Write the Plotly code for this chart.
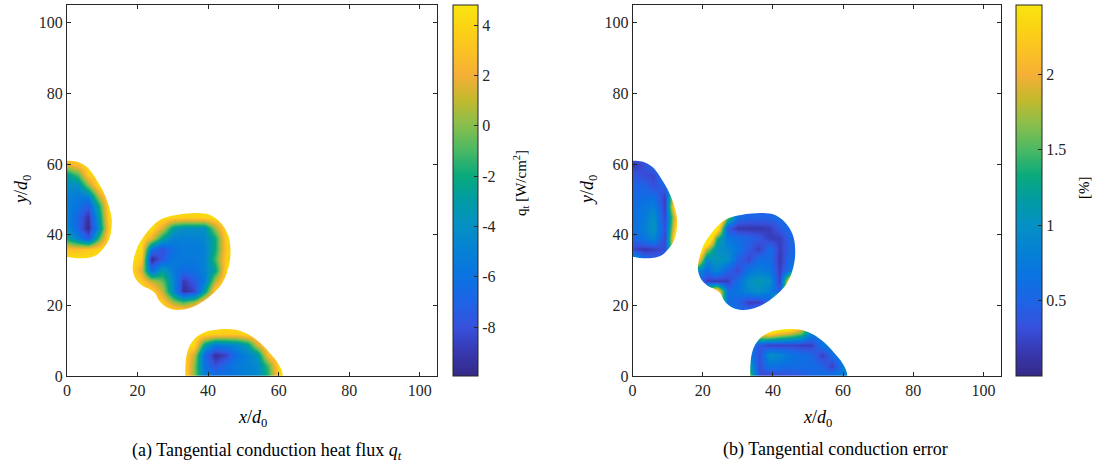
import plotly.graph_objects as go

# ---------------- data ----------------
# grid nodes of the three droplet footprints (x/d0, y/d0)
A_x = [0, 3, 6, 9, 12, 15]
A_y = [33, 36, 39, 42, 45, 48, 51, 54, 57, 60, 63]
B_x = [18, 21, 24, 27, 30, 33, 36, 39, 42, 45, 48]
B_y = [18, 21, 24, 27, 30, 33, 36, 39, 42, 45, 48]
C_x = [33, 36, 39, 42, 45, 48, 51, 54, 57, 60, 63]
C_y = [0, 3, 6, 9, 12, 15]

# (a) tangential conduction heat flux q_t [W/cm^2]
qt_A = [
    [4.6, 4.6, 4.6, 4.6, 4.6, 4.6],
    [3.0, 2.8, 3.2, 4.0, 4.6, 4.6],
    [-2.5, -5.0, -7.5, -1.0, 4.6, 4.6],
    [-4.5, -7.0, -9.8, -4.0, 3.8, 4.6],
    [-5.0, -7.0, -9.3, -3.0, 4.2, 4.6],
    [-5.0, -6.0, -7.5, -2.0, 4.6, 4.6],
    [-5.0, -5.5, -5.0, 1.0, 4.6, 4.6],
    [-4.0, -4.0, 0.0, 4.6, 4.6, 4.6],
    [-3.0, -1.0, 3.5, 4.6, 4.6, 4.6],
    [2.0, 3.0, 4.6, 4.6, 4.6, 4.6],
    [4.6, 4.6, 4.6, 4.6, 4.6, 4.6],
]
qt_B = [
    [4.6, 4.6, 4.6, 4.6, 4.6, 4.6, 4.6, 4.6, 4.6, 4.6, 4.6],
    [4.6, 4.6, 4.6, 3.5, 0.5, -1.0, 0.5, 4.0, 4.6, 4.6, 4.6],
    [4.6, 4.6, 4.2, 1.0, -4.5, -9.5, -8.5, -3.0, 4.0, 4.6, 4.6],
    [4.6, 3.5, 1.0, -0.5, -4.5, -9.0, -7.5, -5.5, 1.0, 4.6, 4.6],
    [4.6, 1.5, -6.5, -3.0, -5.5, -6.5, -6.0, -5.0, -2.5, 4.2, 4.6],
    [4.6, 3.5, -9.8, -7.5, -5.5, -5.5, -5.5, -5.0, -1.0, 3.8, 4.6],
    [4.6, 4.3, -6.0, -8.0, -6.0, -5.5, -5.5, -5.0, -2.0, 3.5, 4.6],
    [4.6, 4.6, 2.0, -2.5, -5.0, -5.0, -5.0, -4.5, -2.0, 3.8, 4.6],
    [4.6, 4.6, 4.5, 1.5, -3.0, -4.0, -4.0, -4.0, 0.5, 4.6, 4.6],
    [4.6, 4.6, 4.6, 4.6, 4.0, 3.8, 3.8, 4.0, 4.6, 4.6, 4.6],
    [4.6, 4.6, 4.6, 4.6, 4.6, 4.6, 4.6, 4.6, 4.6, 4.6, 4.6],
]
qt_C = [
    [4.6, 0.0, -5.0, -6.0, -6.0, -5.5, -5.0, -4.5, -1.5, 4.0, 4.6],
    [4.6, 0.0, -6.0, -8.0, -6.5, -5.5, -5.0, -4.5, -1.0, 4.3, 4.6],
    [4.6, 1.0, -6.5, -9.5, -8.5, -6.0, -5.0, -3.5, 3.0, 4.6, 4.6],
    [4.6, 4.3, -2.5, -5.5, -5.0, -4.5, -3.0, 1.5, 4.6, 4.6, 4.6],
    [4.6, 4.6, 4.3, 3.8, 3.5, 3.5, 4.2, 4.6, 4.6, 4.6, 4.6],
    [4.6, 4.6, 4.6, 4.6, 4.6, 4.6, 4.6, 4.6, 4.6, 4.6, 4.6],
]

# (b) tangential conduction error [%]
err_A = [
    [1.2, 0.6, 0.5, 0.6, 2.2, 3.0],
    [0.25, 0.15, 0.2, 0.3, 2.4, 3.5],
    [0.5, 0.7, 0.9, 0.25, 2.6, 3.5],
    [0.6, 0.8, 1.05, 0.3, 2.2, 3.5],
    [0.6, 0.75, 1.0, 0.25, 2.0, 3.5],
    [0.6, 0.7, 0.8, 0.2, 2.6, 3.5],
    [0.55, 0.6, 0.6, 0.2, 2.2, 3.0],
    [0.5, 0.5, 0.3, 0.5, 1.0, 1.0],
    [0.4, 0.3, 0.25, 0.8, 0.8, 0.8],
    [0.15, 0.3, 0.6, 0.8, 0.8, 0.8],
    [0.6, 0.6, 0.6, 0.6, 0.6, 0.6],
]
err_B = [
    [0.5, 0.5, 1.5, 1.0, 0.6, 0.6, 0.8, 1.5, 2.0, 3.0, 3.0],
    [0.5, 0.8, 2.4, 0.6, 0.5, 0.2, 0.2, 0.5, 3.0, 3.0, 3.5],
    [0.8, 1.8, 2.6, 0.6, 0.7, 0.9, 1.0, 0.8, 0.4, 3.0, 3.5],
    [0.8, 0.2, 0.15, 0.2, 0.6, 1.0, 1.1, 1.0, 0.2, 2.6, 2.0],
    [1.0, 0.6, 0.9, 0.5, 0.25, 0.7, 0.8, 0.7, 0.2, 0.7, 0.6],
    [2.8, 0.9, 1.1, 1.0, 0.5, 0.25, 0.6, 0.6, 0.15, 0.6, 0.6],
    [3.5, 1.8, 1.0, 0.9, 0.7, 0.4, 0.2, 0.6, 0.2, 0.5, 0.6],
    [3.5, 3.5, 1.4, 0.7, 0.6, 0.5, 0.4, 0.2, 0.2, 0.5, 0.6],
    [3.5, 3.5, 2.8, 0.4, 0.15, 0.15, 0.15, 0.2, 0.4, 0.6, 0.6],
    [3.5, 3.5, 3.5, 1.6, 0.6, 0.5, 0.5, 0.5, 0.6, 0.6, 0.6],
    [3.5, 3.5, 3.5, 1.0, 0.5, 0.5, 0.5, 0.5, 0.6, 0.6, 0.6],
]
err_C = [
    [1.8, 0.3, 0.2, 0.3, 0.3, 0.4, 0.5, 0.6, 0.7, 0.8, 0.8],
    [1.2, 0.3, 0.7, 0.6, 0.6, 0.6, 0.6, 0.5, 0.2, 0.8, 0.8],
    [0.8, 0.3, 1.0, 0.9, 0.7, 0.6, 0.55, 0.2, 0.6, 0.8, 0.8],
    [0.8, 0.4, 0.2, 0.2, 0.25, 0.2, 0.2, 0.7, 0.8, 0.8, 0.8],
    [1.0, 2.2, 2.3, 2.0, 1.8, 1.5, 0.8, 0.7, 0.7, 0.7, 0.7],
    [2.0, 3.5, 3.5, 3.5, 3.5, 2.5, 1.0, 0.7, 0.7, 0.7, 0.7],
]

# droplet footprint outlines
ring_A_x = [-3, 0.4, 2.7, 4.3, 5.6, 7.1, 8.4, 10.0, 11.3, 12.2, 12.7, 12.6, 12.2,
            11.4, 10.3, 9.0, 7.5, 5.6, 3.7, 2.0, 0.4, -3]
ring_A_y = [61, 60.9, 60.7, 60.1, 59.2, 57.5, 55.5, 52.8, 49.8, 47.0, 44.2, 41.7, 39.4,
            37.6, 36.1, 34.7, 33.8, 33.4, 33.3, 33.4, 33.7, 33.7]
ring_B_x = [18.6, 18.9, 19.8, 21.7, 23.5, 25.0, 26.0, 27.3, 29.0, 31.1, 33.5, 35.8, 38.8,
            41.5, 43.8, 45.3, 46.2, 46.3, 45.7, 44.4, 42.7, 40.6, 37.3, 34.0, 30.0, 26.4,
            23.8, 21.7, 20.2, 19.3, 18.8]
ring_B_y = [30.5, 28.8, 27.0, 25.3, 24.5, 23.4, 21.5, 20.1, 19.1, 18.7, 18.9, 19.6, 21.2,
            23.4, 26.0, 29.1, 32.8, 36.6, 39.8, 42.3, 44.2, 45.6, 46.1, 46.0, 45.4, 44.2,
            42.0, 39.4, 37.0, 34.5, 32.5]
ring_C_x = [33.4, 33.5, 33.6, 34.0, 35.0, 36.8, 39.0, 41.5, 45.0, 48.2, 51.2, 53.8, 55.9,
            57.6, 59.2, 60.4, 61.0, 61.2, 61.3]
ring_C_y = [-3, 0, 3.5, 6.4, 9.0, 11.1, 12.4, 13.0, 13.3, 13.0, 11.9, 10.2, 8.3,
            6.4, 4.5, 2.6, 1.2, 0, -3]
frame_x = [-60, 55, 170, 170, 170, 55, -60, -60]
frame_y = [-60, -60, -60, 55, 170, 170, 170, 55]

axis_ticks = [0, 20, 40, 60, 80, 100]
qt_ticks = [-8, -6, -4, -2, 0, 2, 4]
err_ticks = [0.5, 1, 1.5, 2]
qt_range = [-9.94, 4.8]
err_range = [0.0, 2.46]

# ---------------- styling ----------------
parula = [
    [0.0, 'rgb(53,42,135)'], [0.07, 'rgb(55,58,180)'], [0.13, 'rgb(55,80,220)'],
    [0.2, 'rgb(30,100,230)'], [0.27, 'rgb(10,115,225)'], [0.34, 'rgb(5,130,212)'],
    [0.41, 'rgb(5,145,195)'], [0.47, 'rgb(0,155,165)'], [0.54, 'rgb(10,170,125)'],
    [0.61, 'rgb(75,185,100)'], [0.68, 'rgb(140,190,75)'], [0.745, 'rgb(195,185,45)'],
    [0.81, 'rgb(245,175,55)'], [0.88, 'rgb(252,195,35)'], [0.94, 'rgb(250,212,20)'],
    [1.0, 'rgb(249,228,15)'],
]
FONT = 'Liberation Serif, Times New Roman, serif'
INK = '#262626'
W, H = 1097, 465


def fx(px):
    return px / W


def fy(py):
    return 1 - py / H


def closed_ring(xs, ys, want_cw):
    n = len(xs)
    area = sum(xs[i] * ys[(i + 1) % n] - xs[(i + 1) % n] * ys[i] for i in range(n))
    is_cw = area < 0
    if is_cw != want_cw:
        xs, ys = xs[::-1], ys[::-1]
    return list(xs) + [xs[0]], list(ys) + [ys[0]]


mask_x, mask_y = closed_ring(frame_x, frame_y, False)
for rx, ry in [(ring_A_x, ring_A_y), (ring_B_x, ring_B_y), (ring_C_x, ring_C_y)]:
    hx, hy = closed_ring(rx, ry, True)
    mask_x += [None] + hx
    mask_y += [None] + hy

fig = go.Figure()
panels = [
    ('x', 'y', 'coloraxis', [qt_A, qt_B, qt_C]),
    ('x2', 'y2', 'coloraxis2', [err_A, err_B, err_C]),
]
for xa, ya, cax, zs in panels:
    for gx, gy, z in zip([A_x, B_x, C_x], [A_y, B_y, C_y], zs):
        fig.add_trace(go.Heatmap(x=gx, y=gy, z=z, zsmooth='best', coloraxis=cax,
                                 hoverinfo='skip', xaxis=xa, yaxis=ya))
    fig.add_trace(go.Scatter(x=mask_x, y=mask_y, mode='lines', fill='toself',
                             fillcolor='white',
                             line=dict(width=0, color='white', shape='spline', smoothing=1.0),
                             hoverinfo='skip', showlegend=False, xaxis=xa, yaxis=ya))

tickfont = dict(family=FONT, size=16, color=INK)
ax_common = dict(range=[0, 105], tickvals=axis_ticks, ticks='inside', ticklen=4,
                 tickcolor=INK, mirror='ticks', showline=True, linecolor=INK,
                 linewidth=1, showgrid=False, zeroline=False, tickfont=tickfont,
                 automargin=False, fixedrange=True)
y_dom = [fy(376), fy(5)]

cb_common = dict(xanchor='left', xpad=0, y=fy(376), yanchor='bottom', ypad=0,
                 len=371, lenmode='pixels', thicknessmode='pixels',
                 outlinewidth=1, outlinecolor=INK, ticks='inside', ticklen=4,
                 tickcolor=INK, tickfont=tickfont)

fig.update_layout(
    template='none',
    font=dict(family=FONT, size=16, color=INK),
    width=W, height=H, margin=dict(l=0, r=0, t=0, b=0, autoexpand=False),
    paper_bgcolor='white', plot_bgcolor='white', showlegend=False,
    xaxis=dict(domain=[fx(67), fx(437.4)], anchor='y', **ax_common),
    yaxis=dict(domain=y_dom, anchor='x', **ax_common),
    xaxis2=dict(domain=[fx(632.6), fx(1001)], anchor='y2', **ax_common),
    yaxis2=dict(domain=y_dom, anchor='x2', **ax_common),
    coloraxis=dict(colorscale=parula, cmin=qt_range[0], cmax=qt_range[1],
                   colorbar=dict(x=fx(453), thickness=25, tickvals=qt_ticks,
                                 ticktext=[str(v) for v in qt_ticks], **cb_common)),
    coloraxis2=dict(colorscale=parula, cmin=err_range[0], cmax=err_range[1],
                    colorbar=dict(x=fx(1015.5), thickness=26, tickvals=err_ticks,
                                  ticktext=[str(v) for v in err_ticks], **cb_common)),
)


def ann(text, px, py, size, angle=0):
    fig.add_annotation(text=text, x=fx(px), y=fy(py), xref='paper', yref='paper',
                       showarrow=False, textangle=angle, xanchor='center', yanchor='middle',
                       font=dict(family=FONT, size=size, color='black'))


ann('<i>x</i>/<i>d</i><sub>0</sub>', 252, 418, 18)
ann('<i>x</i>/<i>d</i><sub>0</sub>', 817, 418, 18)
ann('<i>y</i>/<i>d</i><sub>0</sub>', 22, 190, 18, -90)
ann('<i>y</i>/<i>d</i><sub>0</sub>', 588, 190, 18, -90)
ann('q<sub>t</sub> [W/cm<sup>2</sup>]', 521, 183, 15, -90)
ann('[%]', 1084, 188, 15, -90)
ann('(a) Tangential conduction heat flux <i>q<sub>t</sub></i>', 267, 451, 18)
ann('(b) Tangential conduction error', 835, 449, 18)

# the page is photographed at the window corner: drop the default body margin
fig.write_html('out.html', config={'displayModeBar': False},
               post_script="document.body.style.margin='0';"
               "document.body.style.overflow='hidden';")
